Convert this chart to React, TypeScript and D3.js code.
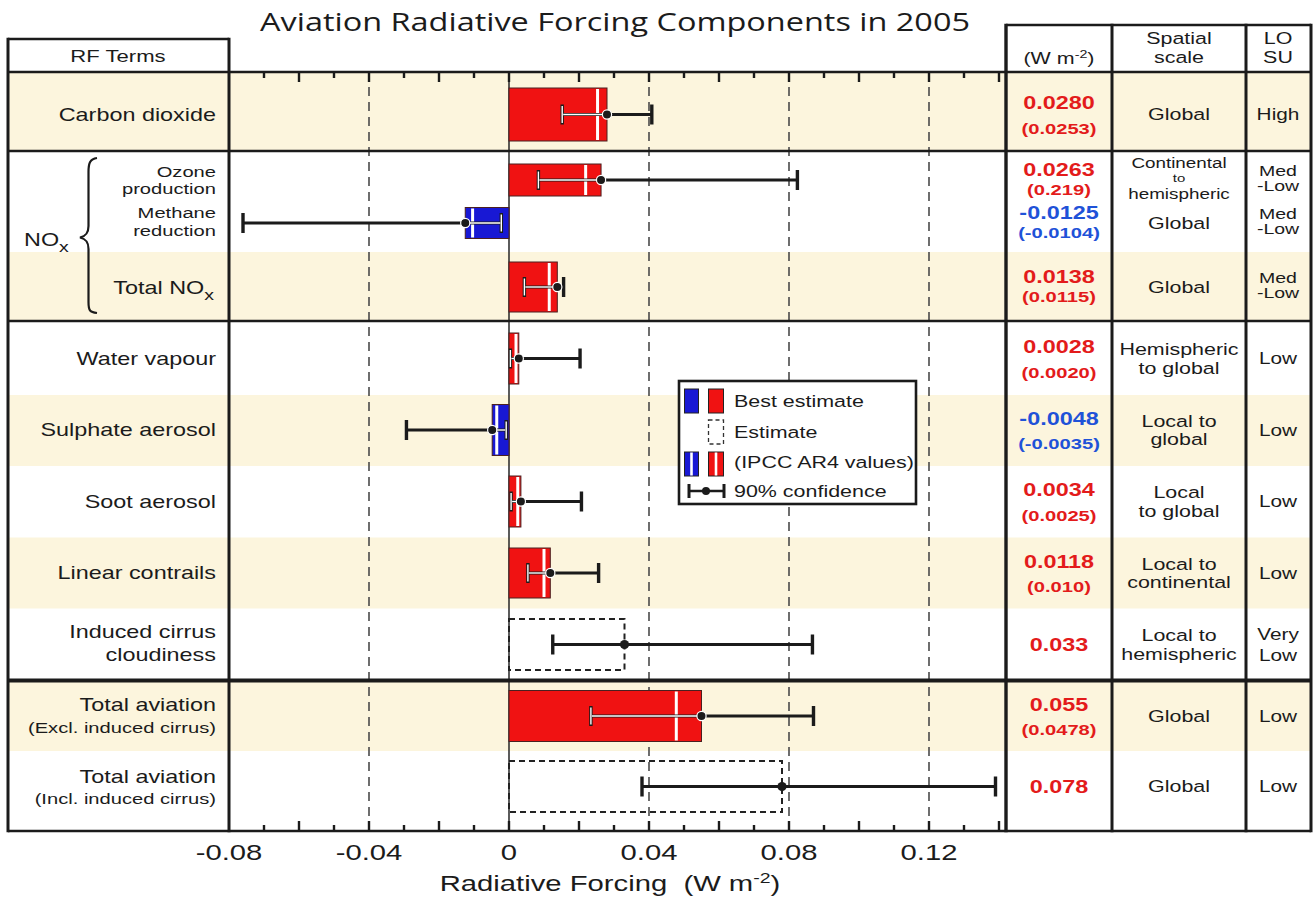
import React from "react";
import * as d3 from "d3";

// ---- Data -----------------------------------------------------------------
const terms = [
  "Carbon dioxide",
  "Ozone production",
  "Methane reduction",
  "Total NOx",
  "Water vapour",
  "Sulphate aerosol",
  "Soot aerosol",
  "Linear contrails",
  "Induced cirrus cloudiness",
  "Total aviation (Excl. induced cirrus)",
  "Total aviation (Incl. induced cirrus)",
];
const bestEstimate = [0.028, 0.0263, -0.0125, 0.0138, 0.0028, -0.0048, 0.0034, 0.0118, 0.033, 0.055, 0.078];
const ar4Value: (number | null)[] = [0.0253, 0.0219, -0.0104, 0.0115, 0.002, -0.0035, 0.0025, 0.01, null, 0.0478, null];
const ciLow = [0.0152, 0.0084, -0.076, 0.0044, 0.0004, -0.0293, 0.0006, 0.0054, 0.0125, 0.0234, 0.038];
const ciHigh = [0.0408, 0.0824, -0.0022, 0.0156, 0.0203, -0.0008, 0.0207, 0.0256, 0.0867, 0.087, 0.139];
const estimateOnly = [false, false, false, false, false, false, false, false, true, false, true];
const valueLabels = ["0.0280", "0.0263", "-0.0125", "0.0138", "0.0028", "-0.0048", "0.0034", "0.0118", "0.033", "0.055", "0.078"];
const ar4Labels: (string | null)[] = ["(0.0253)", "(0.219)", "(-0.0104)", "(0.0115)", "(0.0020)", "(-0.0035)", "(0.0025)", "(0.010)", null, "(0.0478)", null];
const spatialScale = [
  ["Global"],
  ["Continental", "to", "hemispheric"],
  ["Global"],
  ["Global"],
  ["Hemispheric", "to global"],
  ["Local to", "global"],
  ["Local", "to global"],
  ["Local to", "continental"],
  ["Local to", "hemispheric"],
  ["Global"],
  ["Global"],
];
const losu = [["High"], ["Med", "-Low"], ["Med", "-Low"], ["Med", "-Low"], ["Low"], ["Low"], ["Low"], ["Low"], ["Very", "Low"], ["Low"], ["Low"]];
const xTickLabels = [-0.08, -0.04, 0, 0.04, 0.08, 0.12];
const dashedGrid = [-0.04, 0.04, 0.08, 0.12];

// ---- Layout ---------------------------------------------------------------
const W = 1314;
const H = 899;
const SX = 1.3; // horizontal stretch applied to the lettering
const FONT = "'Liberation Sans', Arial, Helvetica, sans-serif";
const RED = "#f01212";
const BLUE = "#1818d4";
const TXT_RED = "#e31b1b";
const TXT_BLUE = "#1f52d8";
const BEIGE = "#fcf5dd";
const INK = "#1b1b1b";

const left = 8;
const labelR = 229;
const axisTop = 72;
const axisBottom = 831;
const plotR = 1006;
const colVal = 1112;
const colSpatial = 1246;
const right = 1311;
const tableTop = 25;
const rfTop = 39;

const x = d3.scaleLinear().domain([-0.08, 0.14]).range([229, 999]);

const rowMid = [114.5, 180, 223, 287, 358.5, 430, 501.5, 573, 644.5, 716, 786.5];
const barH = [53, 32, 31, 50, 51, 51, 51, 50, 51, 51, 51];
const tightRow = [false, true, true, true, false, false, false, false, false, false, false];
const shadedBands: [number, number][] = [
  [72, 151],
  [252, 321],
  [395, 466],
  [537.5, 608.5],
  [681, 751],
];

type LabelProps = {
  x: number;
  y: number;
  size?: number;
  anchor?: "start" | "middle" | "end";
  weight?: number | string;
  fill?: string;
  family?: string;
  children?: React.ReactNode;
};

const Label = ({ x, y, size = 16, anchor = "middle", weight = 400, fill = INK, family = FONT, children }: LabelProps) => (
  <text
    transform={`translate(${x},${y}) scale(${SX},1)`}
    fontSize={size}
    textAnchor={anchor}
    fontWeight={weight}
    fill={fill}
    fontFamily={family}
    dy="0.36em"
  >
    {children}
  </text>
);

function Whisker({ i }: { i: number }) {
  const v = bestEstimate[i];
  const lo = ciLow[i];
  const hi = ciHigh[i];
  const m = rowMid[i];
  const cap = 10;
  const barLo = Math.min(0, v);
  const barHi = Math.max(0, v);
  const inner = !estimateOnly[i];
  const a = Math.max(lo, barLo);
  const b = Math.min(hi, barHi);
  const inside = (t: number) => t >= barLo && t <= barHi;
  return (
    <g>
      <line x1={x(lo)} x2={x(hi)} y1={m} y2={m} stroke={INK} strokeWidth={2.8} />
      <line x1={x(lo)} x2={x(lo)} y1={m - cap} y2={m + cap} stroke={INK} strokeWidth={3.4} />
      <line x1={x(hi)} x2={x(hi)} y1={m - cap} y2={m + cap} stroke={INK} strokeWidth={3.4} />
      {inner && b > a && (
        <line x1={x(a) + 1} x2={x(b) - 1} y1={m} y2={m} stroke="#fff" strokeWidth={1.4} />
      )}
      {inner && inside(lo) && (
        <line x1={x(lo)} x2={x(lo)} y1={m - cap + 1.5} y2={m + cap - 1.5} stroke="#fff" strokeWidth={1.4} />
      )}
      {inner && inside(hi) && (
        <line x1={x(hi)} x2={x(hi)} y1={m - cap + 1.5} y2={m + cap - 1.5} stroke="#fff" strokeWidth={1.4} />
      )}
      <circle cx={x(v)} cy={m} r={4.6} fill={INK} stroke={inner ? "#fff" : "none"} strokeWidth={1.2} />
    </g>
  );
}

function Bar({ i }: { i: number }) {
  const v = bestEstimate[i];
  const m = rowMid[i];
  const h = barH[i];
  const x0 = x(Math.min(0, v));
  const w = Math.abs(x(v) - x(0));
  if (estimateOnly[i]) {
    return (
      <rect x={x0} y={m - h / 2} width={w} height={h} fill="none" stroke="#222" strokeWidth={2} strokeDasharray="6,4" />
    );
  }
  const ar = ar4Value[i];
  return (
    <g>
      <rect x={x0} y={m - h / 2} width={w} height={h} fill={v > 0 ? RED : BLUE} stroke="#4a2020" strokeWidth={1} />
      {ar !== null && (
        <line x1={x(ar)} x2={x(ar)} y1={m - h / 2 + 1} y2={m + h / 2 - 1} stroke="#fff" strokeWidth={3} />
      )}
    </g>
  );
}

export default function App() {
  const minorTicks = d3.range(-7, 15).map((k) => k / 100);

  return (
    <div style={{ position: "fixed", left: 0, top: 0, background: "#fff" }}>
      <svg width={W} height={H} viewBox={`0 0 ${W} ${H}`} style={{ display: "block" }}>
        <rect x={0} y={0} width={W} height={H} fill="#fff" />

        {/* title */}
        <text
          x={615}
          y={31}
          fontSize={25.5}
          textAnchor="middle"
          fontFamily="'Open Sans', 'Liberation Sans', sans-serif"
          fill={INK}
          textLength={710}
          lengthAdjust="spacingAndGlyphs"
        >
          Aviation Radiative Forcing Components in 2005
        </text>

        {/* shaded rows */}
        {shadedBands.map(([a, b], k) => (
          <rect key={k} x={left} y={a} width={right - left} height={b - a} fill={BEIGE} />
        ))}

        {/* vertical guides */}
        {dashedGrid.map((t) => (
          <line key={t} x1={x(t)} x2={x(t)} y1={axisTop} y2={axisBottom} stroke="#4a4a4a" strokeWidth={1.6} strokeDasharray="9,6" />
        ))}
        <line x1={x(0)} x2={x(0)} y1={axisTop} y2={axisBottom} stroke="#333" strokeWidth={1.6} />

        {/* ticks */}
        {minorTicks.map((t) => {
          const major = Math.round(t * 100) % 2 === 0;
          const len = major ? 10 : 6;
          return (
            <g key={t}>
              <line x1={x(t)} x2={x(t)} y1={axisTop} y2={axisTop + len} stroke={INK} strokeWidth={2.4} />
              <line x1={x(t)} x2={x(t)} y1={axisBottom} y2={axisBottom - len} stroke={INK} strokeWidth={2.4} />
            </g>
          );
        })}

        {/* bars and ranges */}
        {terms.map((_, i) => (
          <Bar key={`b${i}`} i={i} />
        ))}
        {terms.map((_, i) => (
          <Whisker key={`w${i}`} i={i} />
        ))}

        {/* table frame */}
        <g stroke={INK} fill="none">
          <line x1={left} x2={labelR} y1={rfTop} y2={rfTop} strokeWidth={2.6} />
          <line x1={plotR} x2={right} y1={tableTop} y2={tableTop} strokeWidth={2.6} />
          <line x1={left} x2={right} y1={axisTop} y2={axisTop} strokeWidth={2.6} />
          <line x1={left} x2={right} y1={151} y2={151} strokeWidth={2.6} />
          <line x1={left} x2={right} y1={321} y2={321} strokeWidth={2.6} />
          <line x1={left} x2={right} y1={680.5} y2={680.5} strokeWidth={4} />
          <line x1={left} x2={right} y1={axisBottom} y2={axisBottom} strokeWidth={2.6} />
          <line x1={left} x2={left} y1={rfTop - 1.3} y2={axisBottom + 1.3} strokeWidth={3} />
          <line x1={labelR} x2={labelR} y1={rfTop - 1.3} y2={axisBottom + 1.3} strokeWidth={3} />
          <line x1={plotR} x2={plotR} y1={tableTop - 1.3} y2={axisBottom + 1.3} strokeWidth={3.4} />
          <line x1={colVal} x2={colVal} y1={tableTop - 1.3} y2={axisBottom + 1.3} strokeWidth={3} />
          <line x1={colSpatial} x2={colSpatial} y1={tableTop - 1.3} y2={axisBottom + 1.3} strokeWidth={3} />
          <line x1={right} x2={right} y1={tableTop - 1.3} y2={axisBottom + 1.3} strokeWidth={3} />
        </g>

        {/* header texts */}
        <Label x={118} y={56} size={17}>RF Terms</Label>
        <Label x={1059} y={58} size={16.5}>
          (W m<tspan dy={-6} fontSize={11}>-2</tspan>
          <tspan dy={6}>)</tspan>
        </Label>
        <Label x={1179} y={38.5} size={16.5}>Spatial</Label>
        <Label x={1179} y={57} size={16.5}>scale</Label>
        <Label x={1278} y={38} size={16.5}>LO</Label>
        <Label x={1278} y={57} size={16.5}>SU</Label>

        {/* row labels */}
        <Label x={216} y={rowMid[0]} size={18} anchor="end">Carbon dioxide</Label>
        <Label x={216} y={171} size={15.5} anchor="end">Ozone</Label>
        <Label x={216} y={188} size={15.5} anchor="end">production</Label>
        <Label x={216} y={212.5} size={15.5} anchor="end">Methane</Label>
        <Label x={216} y={230} size={15.5} anchor="end">reduction</Label>
        <Label x={24} y={240} size={18} anchor="start">
          NO<tspan dy={6} fontSize={15}>x</tspan>
        </Label>
        <path
          d="M97,158 C90,159 88.5,163 88.5,172 L88.5,226 C88.5,233 86,236 80,237.5 C86,239 88.5,242 88.5,249 L88.5,302 C88.5,311 90,312 97,313"
          fill="none"
          stroke={INK}
          strokeWidth={2.2}
        />
        <Label x={214} y={288} size={18} anchor="end">
          Total NO<tspan dy={6} fontSize={15}>x</tspan>
        </Label>
        <Label x={216} y={rowMid[4]} size={18} anchor="end">Water vapour</Label>
        <Label x={216} y={rowMid[5]} size={18} anchor="end">Sulphate aerosol</Label>
        <Label x={216} y={rowMid[6]} size={18} anchor="end">Soot aerosol</Label>
        <Label x={216} y={rowMid[7]} size={18} anchor="end">Linear contrails</Label>
        <Label x={216} y={632} size={18} anchor="end">Induced cirrus</Label>
        <Label x={216} y={655} size={18} anchor="end">cloudiness</Label>
        <Label x={216} y={705} size={18} anchor="end">Total aviation</Label>
        <Label x={216} y={727} size={15.5} anchor="end">(Excl. induced cirrus)</Label>
        <Label x={216} y={777} size={18} anchor="end">Total aviation</Label>
        <Label x={216} y={798.5} size={15.5} anchor="end">(Incl. induced cirrus)</Label>

        {/* value column */}
        {terms.map((_, i) => {
          const neg = bestEstimate[i] < 0;
          const col = neg ? TXT_BLUE : TXT_RED;
          const m = rowMid[i];
          const ar = ar4Labels[i];
          if (ar === null) {
            return (
              <Label key={`v${i}`} x={1059} y={m} size={18} weight="bold" fill={col}>
                {valueLabels[i]}
              </Label>
            );
          }
          const up = tightRow[i] ? -10.5 : -11.5;
          const dn = tightRow[i] ? 9 : 13.5;
          return (
            <g key={`v${i}`}>
              <Label x={1059} y={m + up} size={18} weight="bold" fill={col}>
                {valueLabels[i]}
              </Label>
              <Label x={1059} y={m + dn} size={15.5} weight="bold" fill={col}>
                {ar}
              </Label>
            </g>
          );
        })}

        {/* spatial scale column */}
        {spatialScale.map((lines, i) => {
          if (lines.length === 3) {
            // three stacked lines squeezed into the ozone half-row
            const ys = [-17.5, -2, 13.5];
            const sizes = [14.5, 11.5, 14.5];
            return (
              <g key={`s${i}`}>
                {lines.map((s, k) => (
                  <Label key={k} x={1179} y={rowMid[i] + ys[k]} size={sizes[k]}>
                    {s}
                  </Label>
                ))}
              </g>
            );
          }
          const step = 18.5;
          const start = rowMid[i] - ((lines.length - 1) * step) / 2;
          return (
            <g key={`s${i}`}>
              {lines.map((s, k) => (
                <Label key={k} x={1179} y={start + k * step} size={16.5}>
                  {s}
                </Label>
              ))}
            </g>
          );
        })}

        {/* level of scientific understanding */}
        {losu.map((lines, i) => {
          const med = lines[0] === "Med";
          const step = med ? 15 : 21;
          const start = rowMid[i] - ((lines.length - 1) * step) / 2 - (med ? 1.5 : 0);
          return (
            <g key={`l${i}`}>
              {lines.map((s, k) => (
                <Label key={k} x={1278} y={start + k * step} size={med ? 15 : 16}>
                  {s}
                </Label>
              ))}
            </g>
          );
        })}

        {/* legend */}
        <g>
          <rect x={679} y={381} width={237} height={123} fill="#fff" stroke={INK} strokeWidth={2.6} />
          <rect x={684.5} y={389} width={14} height={24} fill={BLUE} stroke="#222" strokeWidth={1} />
          <rect x={708.5} y={389} width={15} height={24} fill={RED} stroke="#222" strokeWidth={1} />
          <Label x={734} y={401} size={16.5} anchor="start">Best estimate</Label>
          <rect x={708.5} y={420} width={15} height={24} fill="none" stroke="#333" strokeWidth={1.3} strokeDasharray="4,3" />
          <Label x={734} y={432} size={16.5} anchor="start">Estimate</Label>
          <rect x={684.5} y={452} width={14} height={24} fill={BLUE} stroke="#222" strokeWidth={1} />
          <line x1={691.5} x2={691.5} y1={452.5} y2={475.5} stroke="#fff" strokeWidth={2.6} />
          <rect x={708.5} y={452} width={15} height={24} fill={RED} stroke="#222" strokeWidth={1} />
          <line x1={716} x2={716} y1={452.5} y2={475.5} stroke="#fff" strokeWidth={2.6} />
          <Label x={734} y={462} size={16.5} anchor="start">(IPCC AR4 values)</Label>
          <line x1={689} x2={724} y1={491} y2={491} stroke={INK} strokeWidth={2.4} />
          <line x1={689} x2={689} y1={484} y2={498} stroke={INK} strokeWidth={3} />
          <line x1={724} x2={724} y1={484} y2={498} stroke={INK} strokeWidth={3} />
          <circle cx={706} cy={491} r={4} fill={INK} />
          <Label x={734} y={491} size={16.5} anchor="start">90% confidence</Label>
        </g>

        {/* x axis labels */}
        {xTickLabels.map((t) => (
          <Label key={t} x={x(t)} y={852} size={22.5}>
            {t === 0 ? "0" : d3.format(".2~f")(t).replace("−", "-")}
          </Label>
        ))}
        <Label x={610} y={883} size={22.5}>
          {"Radiative Forcing\u00a0 (W m"}
          <tspan dy={-8} fontSize={15}>-2</tspan>
          <tspan dy={8}>)</tspan>
        </Label>
      </svg>
    </div>
  );
}
